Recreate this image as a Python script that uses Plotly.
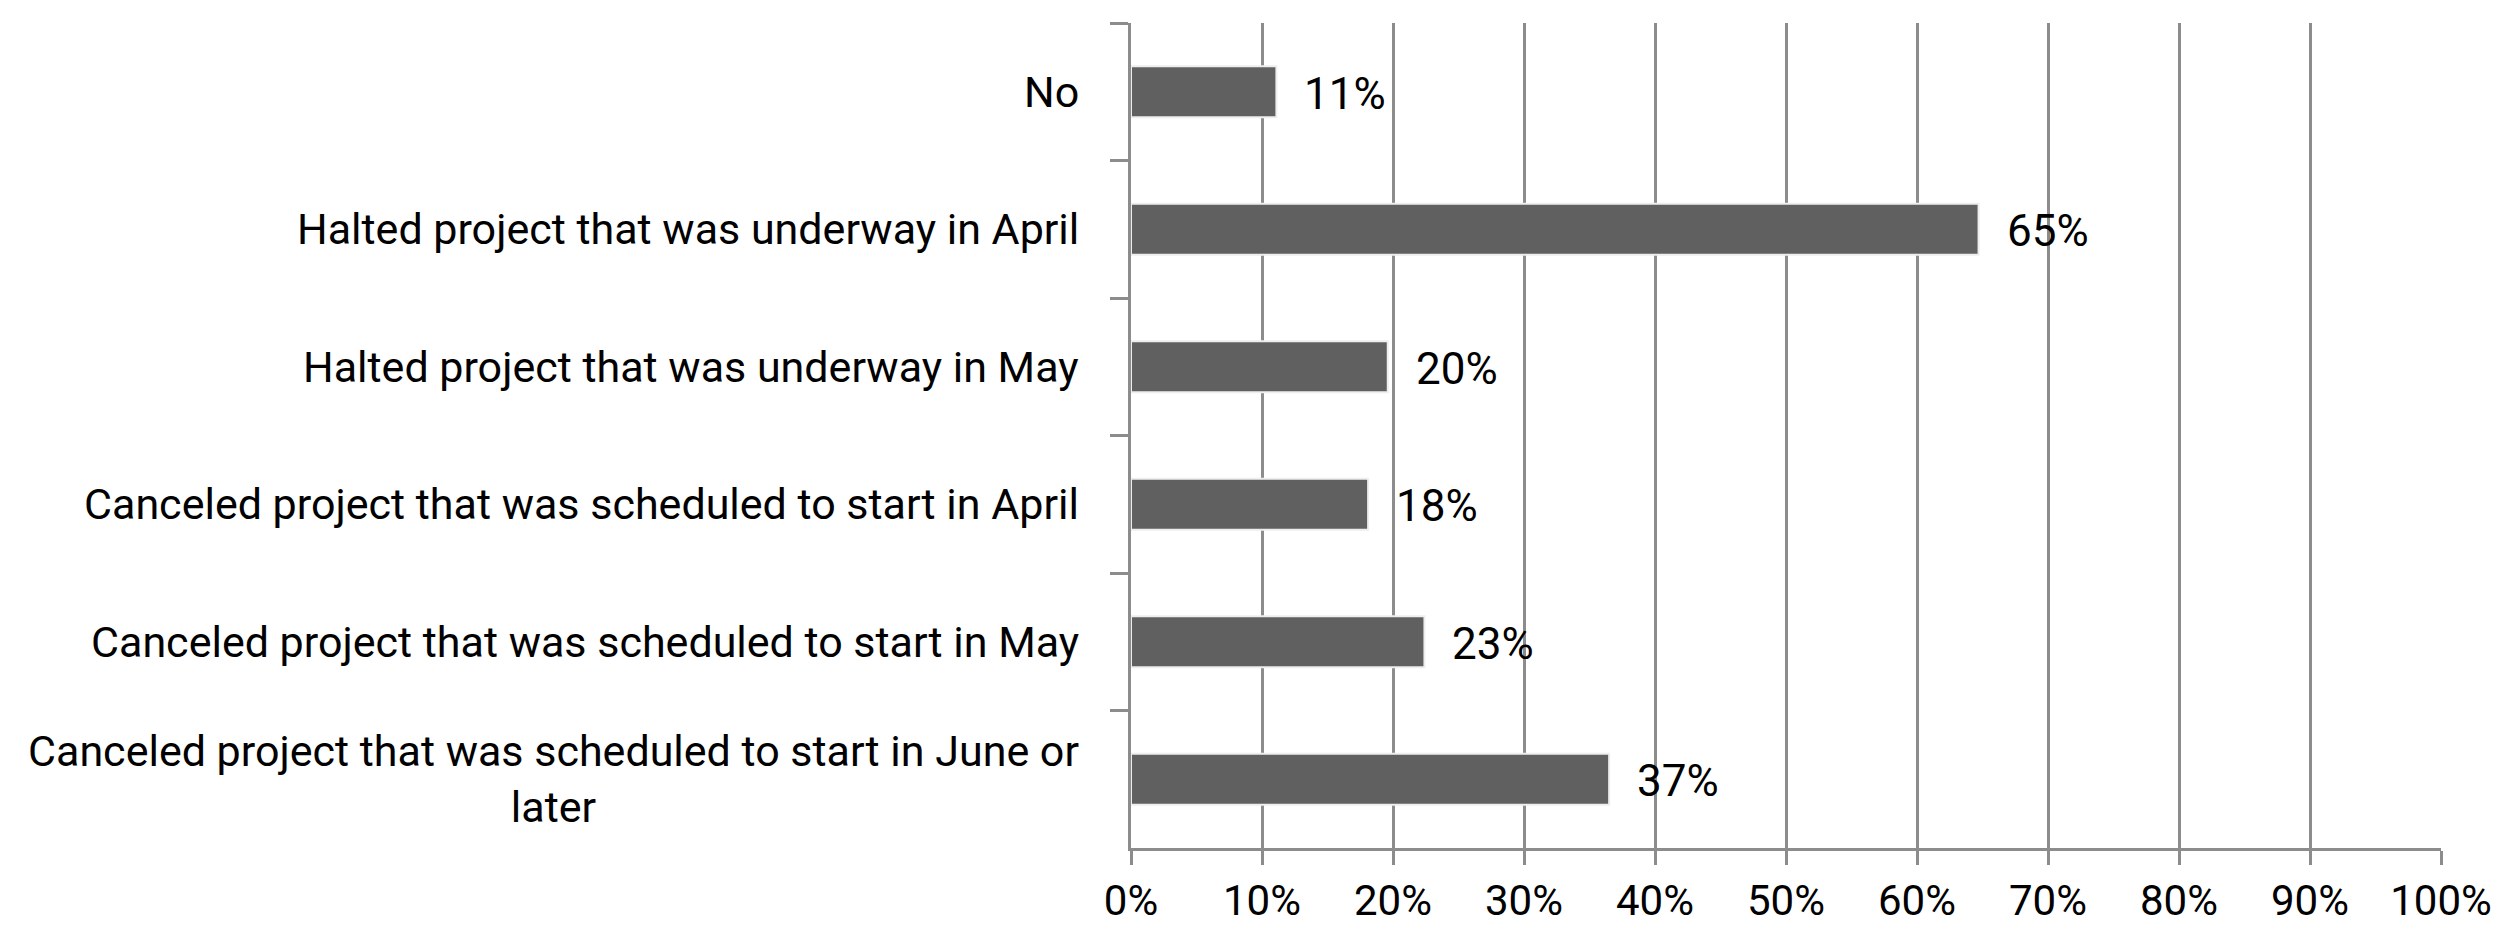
import plotly.graph_objects as go

categories = [
    "No",
    "Halted project that was underway in April",
    "Halted project that was underway in May",
    "Canceled project that was scheduled to start in April",
    "Canceled project that was scheduled to start in May",
    "Canceled project that was scheduled to start in June or<br>later",
]
values = [11.1, 64.7, 19.6, 18.1, 22.4, 36.5]
value_labels = ["11%", "65%", "20%", "18%", "23%", "37%"]
x_ticks = [0, 10, 20, 30, 40, 50, 60, 70, 80, 90, 100]
x_tick_labels = [f"{t}%" for t in x_ticks]

FONT = "Roboto"
GRID = "#8c8c8c"
FS = 43

fig = go.Figure()
fig.add_trace(go.Bar(
    y=categories,
    x=values,
    orientation="h",
    marker=dict(color="#606060", line=dict(color="#eeeeee", width=2)),
    width=0.37,
    hoverinfo="x+y",
))

for c, v, lab in zip(categories, values, value_labels):
    fig.add_annotation(
        x=v, y=c, xref="x", yref="y",
        text=lab, showarrow=False,
        xanchor="left", xshift=26, yshift=-2,
        font=dict(family=FONT, size=44, color="black"),
    )

for c in categories:
    fig.add_annotation(
        x=0, xref="paper", y=c, yref="y",
        text=c, showarrow=False,
        xanchor="right", align="center",
        xshift=-50,
        font=dict(family=FONT, size=FS, color="black"),
    )

fig.update_layout(
    width=2508, height=929,
    margin=dict(l=1123, r=75, t=15, b=83),
    plot_bgcolor="white", paper_bgcolor="white",
    showlegend=False,
    font=dict(family=FONT, size=FS, color="black"),
)
fig.update_xaxes(
    range=[0, 100],
    tickvals=x_ticks, ticktext=x_tick_labels,
    showgrid=True, gridcolor=GRID, gridwidth=3,
    showline=True, linecolor=GRID, linewidth=3,
    ticks="outside", ticklen=14, tickwidth=3, tickcolor=GRID,
    tickfont=dict(family=FONT, size=42, color="black"),
    zeroline=False,
)
fig.update_yaxes(
    autorange="reversed",
    showticklabels=False,
    showgrid=False,
    showline=True, linecolor=GRID, linewidth=3,
    ticks="outside", ticklen=18, tickwidth=3, tickcolor=GRID,
    tickson="boundaries",
    zeroline=False,
)

fig.write_html("out.html")
